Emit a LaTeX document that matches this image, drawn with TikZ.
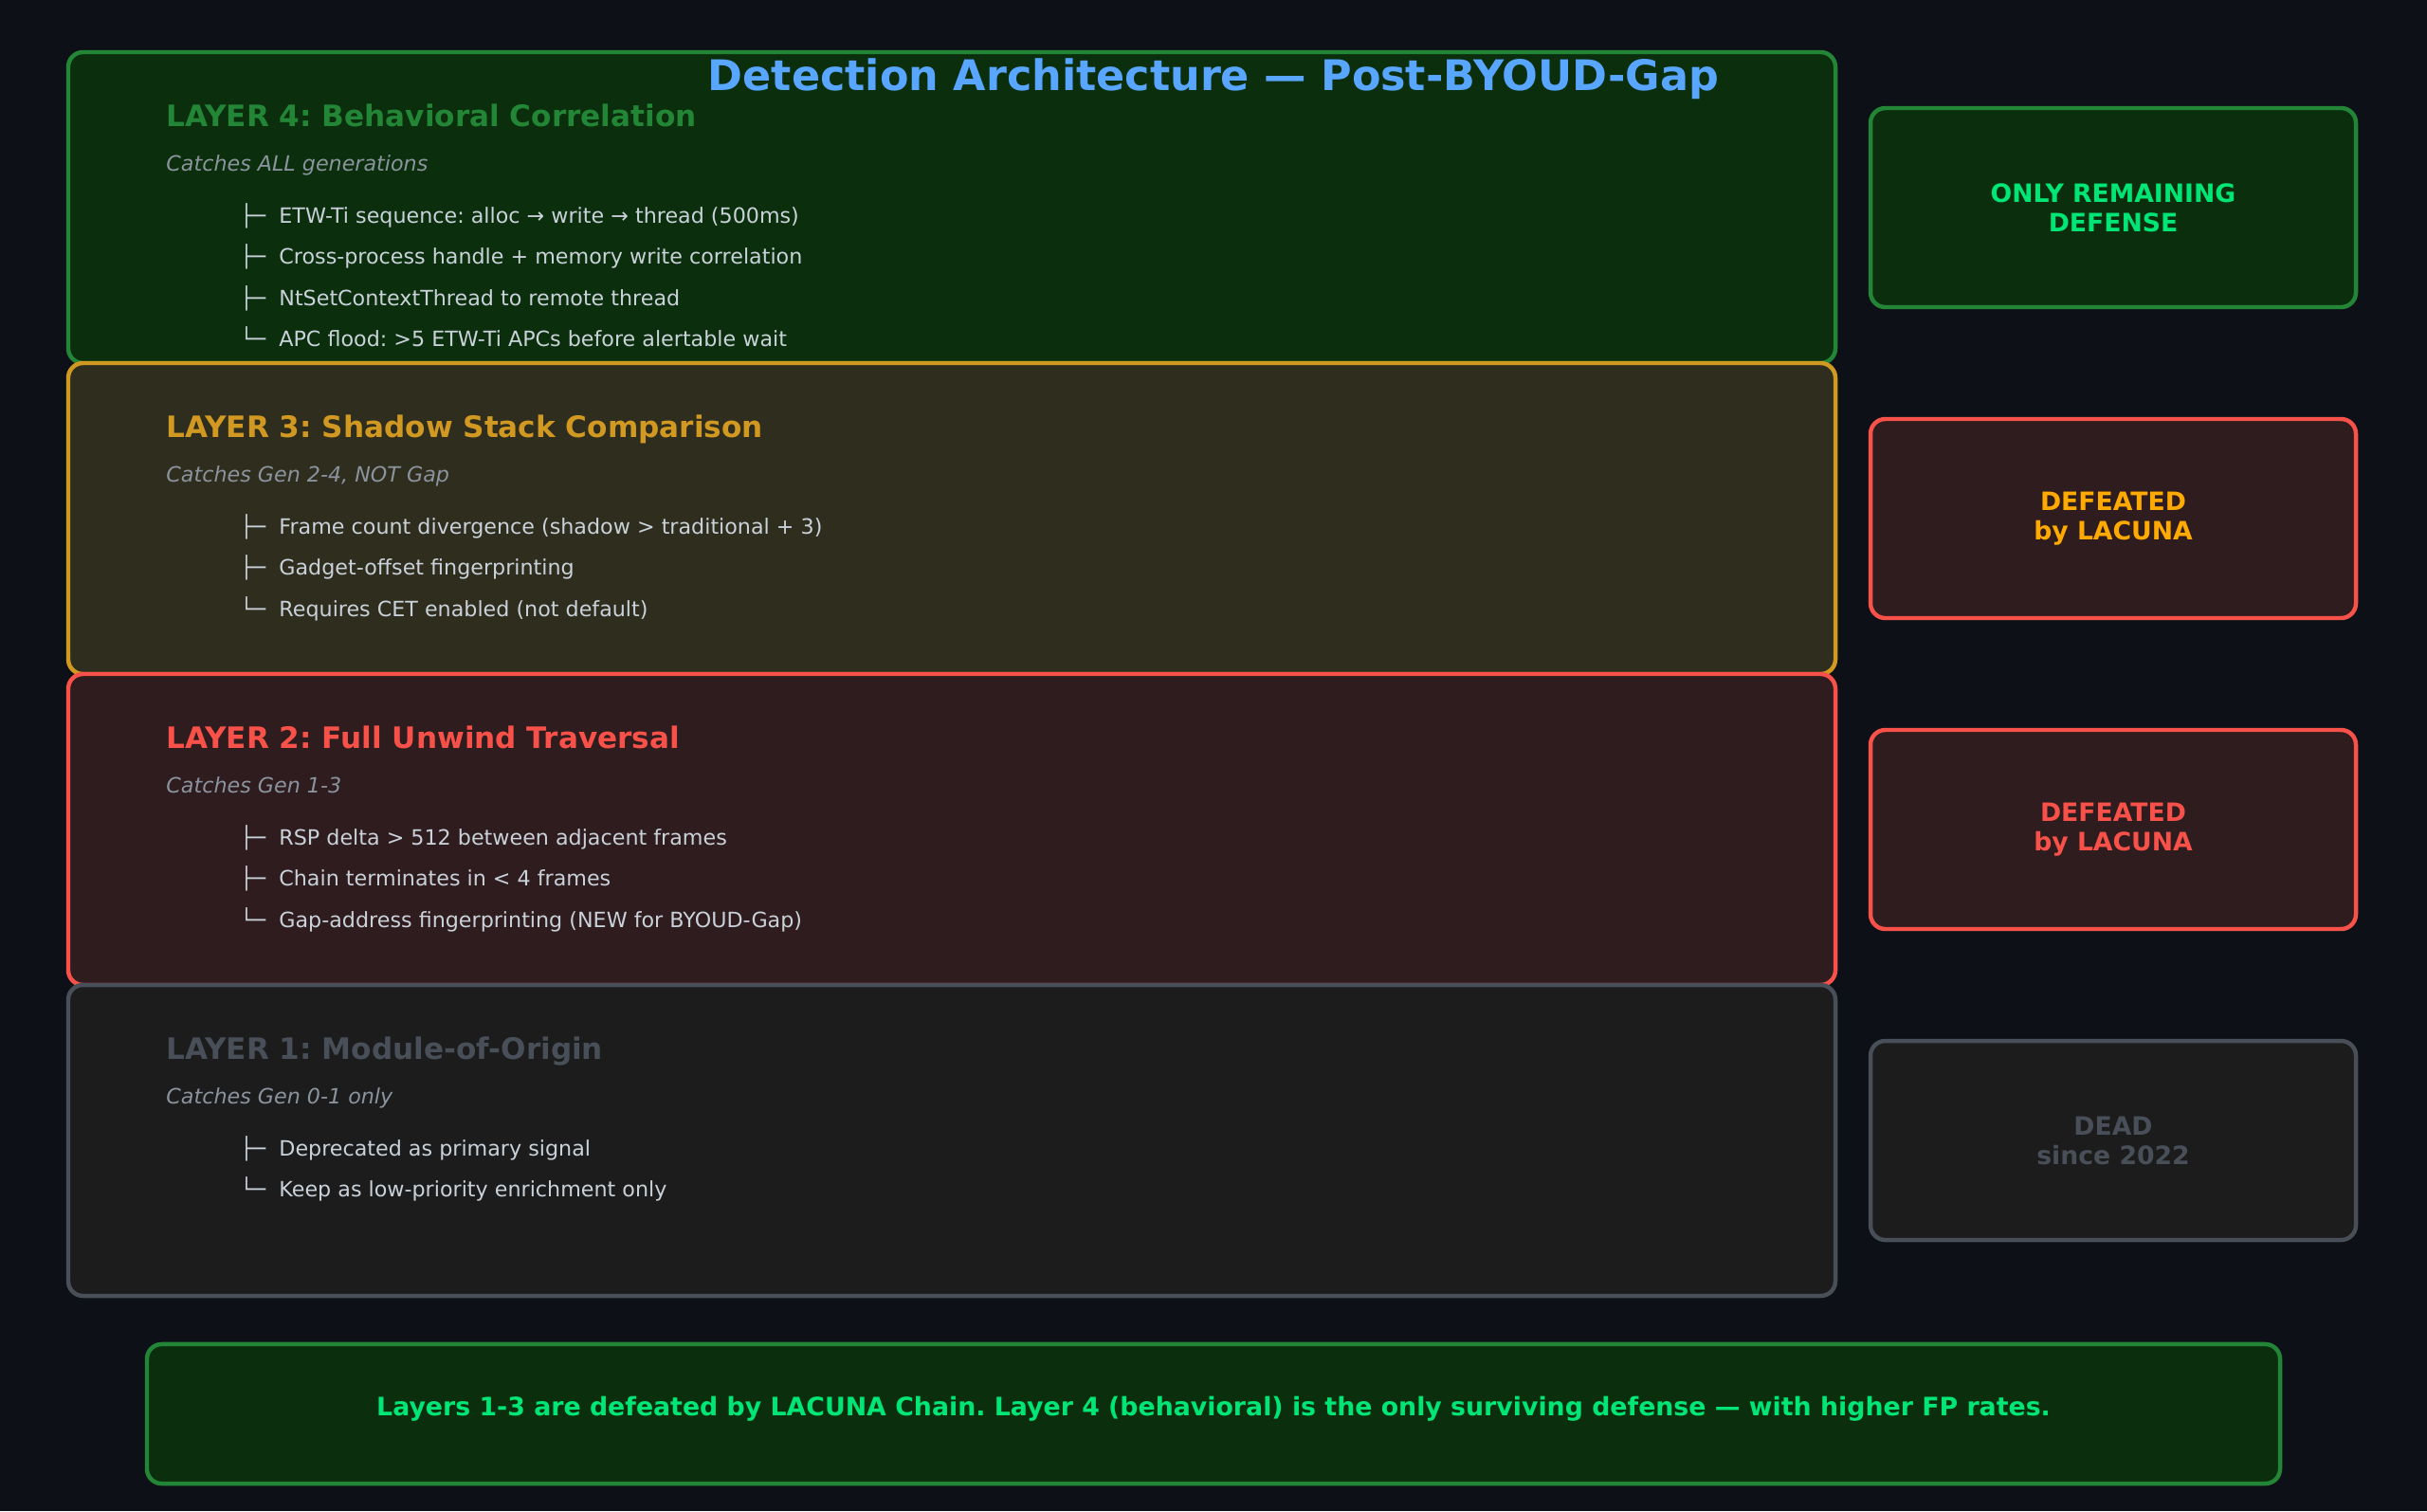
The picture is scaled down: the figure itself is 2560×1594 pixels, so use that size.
\documentclass[tikz,border=0pt]{standalone}
\usepackage{fontspec}
\setmainfont{DejaVu Sans}
\usepackage{tikz}
\usetikzlibrary{positioning, calc}
\frenchspacing
\definecolor{bgA}{HTML}{0D1117}
\definecolor{blueA}{HTML}{58A6FF}
\definecolor{greenA}{HTML}{238636}
\definecolor{greenB}{HTML}{0B2E0D}
\definecolor{greenC}{HTML}{00E676}
\definecolor{yellowA}{HTML}{D29922}
\definecolor{yellowB}{HTML}{2E2D1E}
\definecolor{orangeA}{HTML}{FFAA00}
\definecolor{redA}{HTML}{F85149}
\definecolor{redB}{HTML}{2E1C1E}
\definecolor{grayA}{HTML}{484F58}
\definecolor{grayB}{HTML}{1C1C1C}
\definecolor{grayC}{HTML}{8B949E}
\definecolor{textA}{HTML}{C9D1D9}
\newcommand{\treemid}{├─\hspace{6.4pt}}
\newcommand{\treeend}{└─\hspace{6.4pt}}
\tikzset{
  layerbox/.style 2 args={
    draw=#1, fill=#2, rounded corners=7pt,
    line width=2pt, outer sep=0pt,
    minimum width=838.8pt, minimum height=147.6pt
  },
  statusbox/.style 2 args={
    draw=#1, fill=#2, rounded corners=7pt,
    line width=2pt, outer sep=0pt, align=center,
    minimum width=230.4pt, minimum height=94.5pt,
    font=\fontsize{12}{14}\selectfont\bfseries
  },
  notebox/.style={
    draw=greenA, fill=greenB, rounded corners=7pt,
    line width=2pt, outer sep=0pt, text=greenC,
    minimum width=1012.5pt, minimum height=66.2pt,
    font=\fontsize{12.05}{14}\selectfont\bfseries
  },
  heading/.style={anchor=base west, inner sep=0pt, text=#1,
    font=\fontsize{14}{17}\selectfont\bfseries},
  subline/.style={anchor=base west, inner sep=0pt, text=grayC,
    font=\fontsize{10}{12}\selectfont\itshape},
  itemline/.style={anchor=base west, inner sep=0pt, text=textA,
    font=\fontsize{10}{12}\selectfont}
}

\begin{document}
\begin{tikzpicture}[x=0.45pt, y=-0.45pt]
  \fill[bgA] (0,0) rectangle (2560,1594);
  \useasboundingbox (0,0) rectangle (2560,1594);

  % layers, top to bottom
  \node[layerbox={greenA}{greenB}] (l4) at (1004,219) {};
  \node[layerbox={yellowA}{yellowB}, below=0pt of l4] (l3) {};
  \node[layerbox={redA}{redB}, below=0pt of l3] (l2) {};
  \node[layerbox={grayA}{grayB}, below=0pt of l2] (l1) {};

  \node[font=\fontsize{20}{24}\selectfont\bfseries, text=blueA, anchor=base] (title)
    at (1280,95) {Detection Architecture — Post-BYOUD-Gap};

  \node[heading=greenA] (l4head) at ($(l4.north west)+(103,78)$) {LAYER 4: Behavioral Correlation};
  \node[subline] (l4sub) at ($(l4.north west)+(103,125)$) {Catches ALL generations};
  \node[itemline] (l4a) at ($(l4.north west)+(181,180)$) {\treemid ETW-Ti sequence: alloc → write → thread (500ms)};
  \node[itemline] (l4b) at ($(l4.north west)+(181,223.5)$) {\treemid Cross-process handle + memory write correlation};
  \node[itemline] (l4c) at ($(l4.north west)+(181,267)$) {\treemid NtSetContextThread to remote thread};
  \node[itemline] (l4d) at ($(l4.north west)+(181,310.5)$) {\treeend APC flood: >5 ETW-Ti APCs before alertable wait};

  \node[heading=yellowA] (l3head) at ($(l3.north west)+(103,78)$) {LAYER 3: Shadow Stack Comparison};
  \node[subline] (l3sub) at ($(l3.north west)+(103,125)$) {Catches Gen 2-4, NOT Gap};
  \node[itemline] (l3a) at ($(l3.north west)+(181,180)$) {\treemid Frame count divergence (shadow > traditional + 3)};
  \node[itemline] (l3b) at ($(l3.north west)+(181,223.5)$) {\treemid Gadget-offset fingerprinting};
  \node[itemline] (l3c) at ($(l3.north west)+(181,267)$) {\treeend Requires CET enabled (not default)};

  \node[heading=redA] (l2head) at ($(l2.north west)+(103,78)$) {LAYER 2: Full Unwind Traversal};
  \node[subline] (l2sub) at ($(l2.north west)+(103,125)$) {Catches Gen 1-3};
  \node[itemline] (l2a) at ($(l2.north west)+(181,180)$) {\treemid RSP delta > 512 between adjacent frames};
  \node[itemline] (l2b) at ($(l2.north west)+(181,223.5)$) {\treemid Chain terminates in < 4 frames};
  \node[itemline] (l2c) at ($(l2.north west)+(181,267)$) {\treeend Gap-address fingerprinting (NEW for BYOUD-Gap)};

  \node[heading=grayA] (l1head) at ($(l1.north west)+(103,78)$) {LAYER 1: Module-of-Origin};
  \node[subline] (l1sub) at ($(l1.north west)+(103,125)$) {Catches Gen 0-1 only};
  \node[itemline] (l1a) at ($(l1.north west)+(181,180)$) {\treemid Deprecated as primary signal};
  \node[itemline] (l1b) at ($(l1.north west)+(181,223.5)$) {\treeend Keep as low-priority enrichment only};

  % verdicts
  \node[statusbox={greenA}{greenB}, text=greenC, right=16.65pt of l4] (s4) {ONLY REMAINING\\DEFENSE};
  \node[statusbox={redA}{redB}, text=orangeA, right=16.65pt of l3] (s3) {DEFEATED\\by LACUNA};
  \node[statusbox={redA}{redB}, text=redA, right=16.65pt of l2] (s2) {DEFEATED\\by LACUNA};
  \node[statusbox={grayA}{grayB}, text=grayA, right=16.65pt of l1] (s1) {DEAD\\since 2022};

  \node[notebox] (note) at (1280,1491.5)
    {\raisebox{2.3pt}[\height][\depth]{Layers 1-3 are defeated by LACUNA Chain. Layer 4 (behavioral) is the only surviving defense — with higher FP rates.}};
\end{tikzpicture}
\end{document}
